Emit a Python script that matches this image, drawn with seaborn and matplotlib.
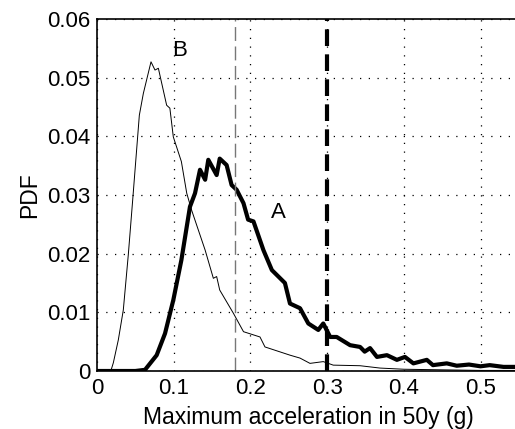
import seaborn as sns
import matplotlib.pyplot as plt
import pandas as pd

# curve A (thick)
a_x = [0.0, 0.05, 0.0626, 0.0778, 0.0887, 0.0995, 0.110, 0.1212, 0.1278, 0.1343, 0.141, 0.1451,
       0.156, 0.160, 0.169, 0.1755, 0.182, 0.191, 0.197, 0.204, 0.217, 0.228, 0.245, 0.2516,
       0.2647, 0.2755, 0.2885, 0.295, 0.304, 0.3125, 0.330, 0.343, 0.349, 0.356, 0.365, 0.378,
       0.391, 0.4015, 0.4125, 0.430, 0.438, 0.456, 0.469, 0.485, 0.500, 0.512, 0.530, 0.55]
a_y = [0.0, 0.0, 0.0002, 0.0027, 0.0064, 0.0121, 0.0189, 0.0280, 0.0303, 0.0343, 0.0326, 0.0360,
       0.0334, 0.0362, 0.0351, 0.0317, 0.0309, 0.0286, 0.0258, 0.0255, 0.0206, 0.0172, 0.0150, 0.0115,
       0.0107, 0.0081, 0.0070, 0.0081, 0.0058, 0.0058, 0.0044, 0.0041, 0.0033, 0.0039, 0.0024, 0.0027,
       0.0019, 0.0024, 0.0013, 0.0019, 0.0010, 0.0013, 0.0009, 0.0011, 0.0008, 0.0010, 0.0007, 0.0007]

# curve B (thin)
b_x = [0.0, 0.018, 0.0213, 0.0278, 0.0343, 0.0408, 0.0465, 0.0552, 0.0604, 0.0704, 0.0756, 0.080,
       0.0908, 0.095, 0.0995, 0.110, 0.117, 0.1234, 0.141, 0.1517, 0.156, 0.160, 0.178, 0.191,
       0.2125, 0.219, 0.2516, 0.2647, 0.2777, 0.295, 0.308, 0.343, 0.369, 0.40, 0.45, 0.50, 0.55]
b_y = [0.0, 0.0, 0.0014, 0.0053, 0.0104, 0.0198, 0.0291, 0.0436, 0.0473, 0.0527, 0.0513, 0.0516,
       0.0453, 0.0448, 0.0399, 0.0357, 0.0303, 0.0274, 0.0206, 0.0158, 0.0161, 0.0138, 0.0098, 0.0067,
       0.0058, 0.0041, 0.0027, 0.0022, 0.0013, 0.0016, 0.0010, 0.0009, 0.0005, 0.0003, 0.0002, 0.0001, 0.0001]

ref_gray = 0.18
ref_black = 0.30

sns.set_style("white")
plt.rcParams['font.family'] = ['Liberation Sans', 'DejaVu Sans']
plt.rcParams['text.color'] = 'black'
plt.rcParams['axes.labelcolor'] = 'black'

fig = plt.figure(figsize=(5.15, 4.29), dpi=100)
ax = fig.add_axes([97 / 515, 58 / 429, 0.55 * 767 / 515, 352 / 429])

sns.lineplot(x=b_x, y=b_y, ax=ax, color='black', lw=0.7)
sns.lineplot(x=a_x, y=a_y, ax=ax, color='black', lw=3.0)
ax.axvline(ref_gray, color='#777777', lw=1.0, ls=(0, (10, 4)))
ax.axvline(ref_black, color='black', lw=3.0, ls=(0, (4, 2)))

ax.text(0.108, 0.0547, 'B', fontsize=16, ha='center', va='center', color='black')
ax.text(0.236, 0.0271, 'A', fontsize=16, ha='center', va='center', color='black')

ax.set_xlim(0, 0.55)
ax.set_ylim(0, 0.06)
ax.set_xticks([0, 0.1, 0.2, 0.3, 0.4, 0.5])
ax.set_xticklabels(['0', '0.1', '0.2', '0.3', '0.4', '0.5'])
ax.set_yticks([0, 0.01, 0.02, 0.03, 0.04, 0.05, 0.06])
ax.set_yticklabels(['0', '0.01', '0.02', '0.03', '0.04', '0.05', '0.06'])
ax.tick_params(direction='in', length=3, labelsize=16, colors='black', pad=5)
ax.grid(True, color='black', ls=(0, (1, 6)), lw=0.9)
for s in ax.spines.values():
    s.set_color('black')
    s.set_linewidth(1.2)
ax.set_xlabel('Maximum acceleration in 50y (g)', fontsize=16.5, labelpad=5)
ax.set_ylabel('PDF', fontsize=16.5, labelpad=4)

plt.savefig('out.png', dpi=100)
